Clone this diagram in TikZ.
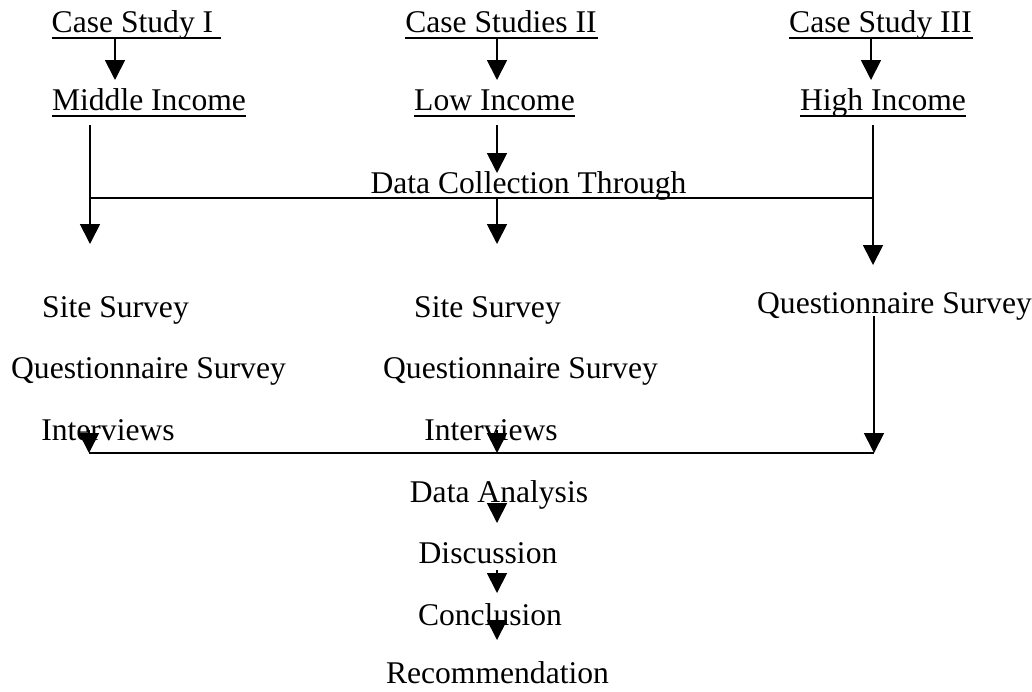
\documentclass[tikz,border=0pt]{standalone}
\usepackage{fontspec}
\setmainfont{Liberation Serif}
\usetikzlibrary{arrows.meta}
\begin{document}
\begin{tikzpicture}[x=1pt,y=-1pt,
  lbl/.style={anchor=base,inner sep=0pt,outer sep=0pt,font=\fontsize{31.6}{38}\selectfont},
  conn/.style={line width=1.8pt},
  arr/.style={line width=1.8pt,-{Triangle[width=20pt,length=20pt]}},
  uline/.style={line width=1.5pt}]
\useasboundingbox (0,0) rectangle (1032,691);
% top rows
\node[lbl] (cs1) at (132.5,32) {Case Study I};
\node[lbl] (cs2) at (501,32) {Case Studies II};
\node[lbl] (cs3) at (880.5,32) {Case Study III};
\node[lbl] (mi) at (149,110) {Middle Income};
\node[lbl] (li) at (494.5,110) {Low Income};
\node[lbl] (hi) at (883,110) {High Income};
\foreach \n/\e in {cs1/8,cs2/1,cs3/1}{
  \draw[uline] ([yshift=-6]\n.base west) -- ([yshift=-6,xshift=\e]\n.base east);}
\foreach \n in {mi,li,hi}{
  \draw[uline] ([yshift=-6]\n.base west) -- ([yshift=-6]\n.base east);}
\node[lbl] (dc) at (528.5,193) {Data Collection Through};
% methods
\node[lbl] (ss1) at (115.5,317) {Site Survey};
\node[lbl] (qs1) at (148.5,378) {Questionnaire Survey};
\node[lbl] (iv1) at (108,440) {Interviews};
\node[lbl] (ss2) at (487.5,317) {Site Survey};
\node[lbl] (qs2) at (520.5,378) {Questionnaire Survey};
\node[lbl] (iv2) at (491,440) {Interviews};
\node[lbl] (qs3) at (894.5,313) {Questionnaire Survey};
% final chain
\node[lbl] (da) at (499,502) {Data Analysis};
\node[lbl] (di) at (488,563) {Discussion};
\node[lbl] (co) at (490,625) {Conclusion};
\node[lbl] (re) at (497.5,683) {Recommendation};
% coordinates
\coordinate (t1s) at (115,38); \coordinate (t1e) at (115,80);
\coordinate (t2s) at (497,38); \coordinate (t2e) at (497,80);
\coordinate (t3s) at (871,38); \coordinate (t3e) at (871,80);
\coordinate (m1s) at (90,125); \coordinate (j1) at (90,198); \coordinate (m1e) at (90,244);
\coordinate (m2s) at (497,125); \coordinate (m2e) at (497,173);
\coordinate (j2) at (497,198); \coordinate (m2f) at (497,244);
\coordinate (m3s) at (873,125); \coordinate (j3) at (873,198); \coordinate (m3e) at (873,265);
\coordinate (r3s) at (874,316); \coordinate (b3) at (874,453);
\coordinate (b1s) at (89,430); \coordinate (b1) at (89,453);
\coordinate (b2s) at (497,430); \coordinate (b2) at (497,453);
\coordinate (d1s) at (497,503); \coordinate (d1e) at (497,523);
\coordinate (d2s) at (497,570); \coordinate (d2e) at (497,593);
\coordinate (d3s) at (497,619); \coordinate (d3e) at (497,640);
% arrows
\draw[arr] (t1s) -- (t1e);
\draw[arr] (t2s) -- (t2e);
\draw[arr] (t3s) -- (t3e);
\draw[conn] (m1s) -- (j1);
\draw[arr] (j1) -- (m1e);
\draw[arr] (m2s) -- (m2e);
\draw[conn] (m3s) -- (j3);
\draw[arr] (j3) -- (m3e);
\draw[conn] (j1) -- (j3);
\draw[arr] (j2) -- (m2f);
\draw[arr] (r3s) -- (b3);
\draw[arr] (b1s) -- (b1);
\draw[arr] (b2s) -- (b2);
\draw[conn] (b1) -- (b3);
\draw[arr] (d1s) -- (d1e);
\draw[arr] (d2s) -- (d2e);
\draw[arr] (d3s) -- (d3e);
\end{tikzpicture}
\end{document}
